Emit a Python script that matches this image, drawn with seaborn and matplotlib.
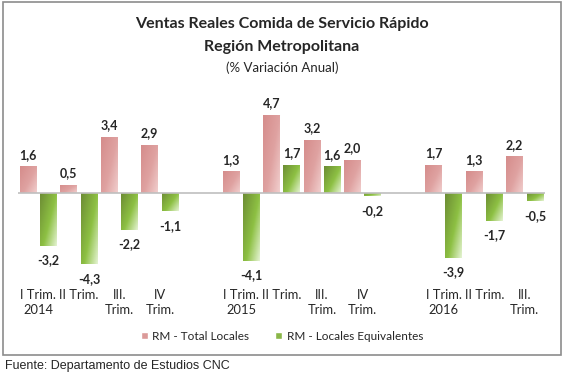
import numpy as np
import pandas as pd
import matplotlib
matplotlib.use('Agg')
import matplotlib.pyplot as plt
import seaborn as sns
from matplotlib.colors import to_rgb
from matplotlib.patches import Rectangle, Patch

# Data
periods = ['2014 I', '2014 II', '2014 III', '2014 IV',
           '2015 I', '2015 II', '2015 III', '2015 IV',
           '2016 I', '2016 II', '2016 III']
total_locales = [1.6, 0.5, 3.4, 2.9, 1.3, 4.7, 3.2, 2.0, 1.7, 1.3, 2.2]
locales_equiv = [-3.2, -4.3, -2.2, -1.1, -4.1, 1.7, 1.6, -0.2, -3.9, -1.7, -0.5]
series_names = ['RM - Total Locales', 'RM - Locales Equivalentes']

# blank slots between years
order = periods[:4] + ['gap1'] + periods[4:8] + ['gap2'] + periods[8:]
tick_labels = ['I Trim.\n2014', 'II Trim.', 'III.\nTrim.', 'IV\nTrim.', '',
               'I Trim.\n2015', 'II Trim.', 'III.\nTrim.', 'IV\nTrim.', '',
               'I Trim.\n2016', 'II Trim.', 'III.\nTrim.']

df = pd.DataFrame({
    'Periodo': periods * 2,
    'Serie': [series_names[0]] * len(periods) + [series_names[1]] * len(periods),
    'Valor': total_locales + locales_equiv,
})

sns.set_theme(style='white')
plt.rcParams['font.family'] = ['Lato', 'DejaVu Sans']

pink = '#DB9A99'
green = '#8AB648'

fig = plt.figure(figsize=(5.64, 3.77), dpi=100)
ax = fig.add_axes([18 / 564, (377 - 285) / 377, 527 / 564, 180 / 377])

sns.barplot(data=df, x='Periodo', y='Valor', hue='Serie', order=order,
            hue_order=series_names, palette=[pink, green], width=1.0, gap=0.18,
            saturation=1, legend=False, ax=ax)

# gradient fill for the bars, top-left darker to bottom-right lighter
grads = {
    pink: ['#D58C8B', '#DFA2A1', '#F1CFCE'],
    green: ['#6C8C34', '#8DC043', '#E4F3D2'],
}

def gradient_img(stops, n=40):
    c = [np.array(to_rgb(s)) for s in stops]
    yy, xx = np.mgrid[0:n, 0:n] / (n - 1)
    t = (0.55 * xx + 0.45 * yy)
    t = t / t.max()
    img = np.zeros((n, n, 3))
    for k in range(3):
        img[..., k] = np.interp(t, [0, 0.55, 1], [c[0][k], c[1][k], c[2][k]])
    return img

for p in list(ax.patches):
    fc = matplotlib.colors.to_hex(p.get_facecolor())
    key = pink if fc.lower() == pink.lower() else green
    x0, w = p.get_x(), p.get_width()
    y0, h = p.get_y(), p.get_height()
    lo, hi = min(y0, y0 + h), max(y0, y0 + h)
    if hi - lo <= 0:
        continue
    im = ax.imshow(gradient_img(grads[key]), extent=[x0, x0 + w, lo, hi],
                   origin='upper', aspect='auto', zorder=p.get_zorder() + 0.1)
    im.set_clip_path(p)

ax.set_xlim(-0.5, len(order) - 0.5)
ax.set_ylim(-5.54, 5.3)

# value labels
for cont in ax.containers:
    for bar in cont:
        v = bar.get_height()
        if np.isnan(v):
            continue
        xc = bar.get_x() + bar.get_width() / 2
        txt = f'{v:.1f}'.replace('.', ',')
        if v >= 0:
            ax.annotate(txt, (xc, v), xytext=(0, 4), textcoords='offset points',
                        ha='center', va='bottom', fontsize=9, fontweight='bold')
        else:
            ax.annotate(txt, (xc, v), xytext=(0, -6), textcoords='offset points',
                        ha='center', va='top', fontsize=9, fontweight='bold')

ax.axhline(0, color='#BFBFBF', lw=1.2, zorder=5)

for s in ax.spines.values():
    s.set_visible(False)
ax.set_yticks([])
ax.set_xticks(range(len(order)))
ax.set_xticklabels(tick_labels, fontsize=9.3, linespacing=1.25)
ax.tick_params(axis='x', length=0, pad=3)
ax.set_xlabel('')
ax.set_ylabel('')
ax.patch.set_alpha(0)

# titles
fig.text(0.5, 1 - 24 / 377, 'Ventas Reales Comida de Servicio Rápido', ha='center',
         va='center', fontsize=11.5, fontweight='bold')
fig.text(0.5, 1 - 47 / 377, 'Región Metropolitana', ha='center', va='center',
         fontsize=11.5, fontweight='bold')
fig.text(0.5, 1 - 68 / 377, '(% Variación Anual)', ha='center', va='center',
         fontsize=9.5)

handles = [Patch(facecolor=pink, label=series_names[0]),
           Patch(facecolor=green, label=series_names[1])]
fig.legend(handles=handles, loc='center', bbox_to_anchor=(282 / 564, 1 - 336 / 377),
           ncol=2, frameon=False, fontsize=8.5, handlelength=0.6, handleheight=0.6,
           handletextpad=0.4, columnspacing=2.2)

# chart border and source note
fig.patches.append(Rectangle((3 / 564, 1 - 355 / 377), 558 / 564, 353 / 377,
                             transform=fig.transFigure, fill=False,
                             edgecolor='#8C8C8C', lw=1.2))
fig.text(5 / 564, 1 - 366 / 377, 'Fuente: Departamento de Estudios CNC',
         ha='left', va='center', fontsize=9, family='Liberation Sans')

fig.savefig('out.png', dpi=100)
